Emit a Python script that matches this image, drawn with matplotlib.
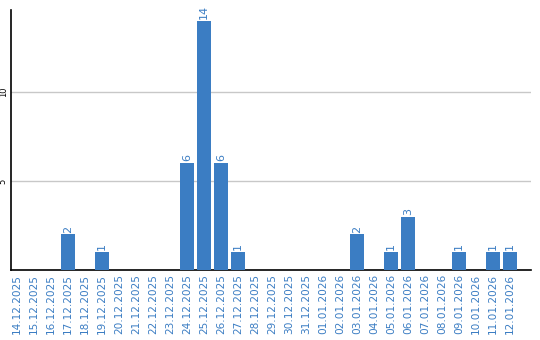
import matplotlib
matplotlib.use('Agg')
import matplotlib.pyplot as plt

dates = ['14.12.2025', '15.12.2025', '16.12.2025', '17.12.2025', '18.12.2025',
         '19.12.2025', '20.12.2025', '21.12.2025', '22.12.2025', '23.12.2025',
         '24.12.2025', '25.12.2025', '26.12.2025', '27.12.2025', '28.12.2025',
         '29.12.2025', '30.12.2025', '31.12.2025', '01.01.2026', '02.01.2026',
         '03.01.2026', '04.01.2026', '05.01.2026', '06.01.2026', '07.01.2026',
         '08.01.2026', '09.01.2026', '10.01.2026', '11.01.2026', '12.01.2026']
counts = [0, 0, 0, 2, 0, 1, 0, 0, 0, 0,
          6, 14, 6, 1, 0, 0, 0, 0, 0, 0,
          2, 0, 1, 3, 0, 0, 1, 0, 1, 1]

blue = '#3b7dc3'

fig = plt.figure(figsize=(5.4, 3.4), dpi=100)
ax = fig.add_axes([10.5 / 540, 70 / 340, 520.5 / 540, 260 / 340])

x = list(range(len(dates)))
ax.bar(x, counts, width=0.82, color=blue, zorder=3)

# value labels above the bars
for xi, c in zip(x, counts):
    if c > 0:
        ax.text(xi, c + 0.1, str(c), rotation=90, ha='center', va='bottom',
                color=blue, fontsize=8)

ax.set_xlim(-0.38, 30.24)
ax.set_ylim(0, 14.6)
ax.set_yticks([5, 10])
ax.set_yticklabels(['5', '10'], rotation=90, fontsize=6, va='center')
ax.set_xticks(x)
ax.set_xticklabels(dates, rotation=90, fontsize=7.6, color=blue)
ax.tick_params(axis='both', length=0, pad=3)
ax.tick_params(axis='y', pad=2)
ax.yaxis.grid(True, color='#c8c8c8', linewidth=1, zorder=0)

for side in ['top', 'right']:
    ax.spines[side].set_visible(False)
ax.spines['left'].set_linewidth(1.2)
ax.spines['bottom'].set_linewidth(1.2)

fig.savefig('out.png', dpi=100)
